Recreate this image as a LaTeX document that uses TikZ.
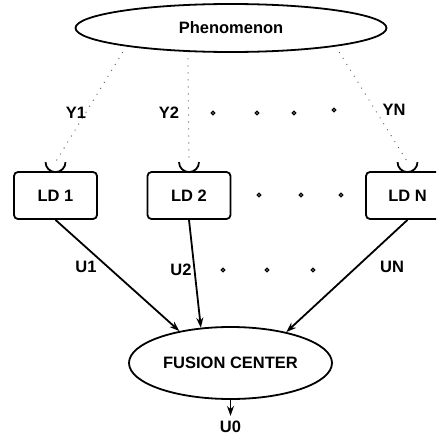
\documentclass[tikz,border=0pt]{standalone}
\usepackage{fontspec}
\setmainfont{Liberation Sans}
\usetikzlibrary{arrows.meta, shapes.geometric}

\begin{document}
\begin{tikzpicture}[x=1pt,y=-1pt,>={Stealth[length=10pt,width=7pt]},
  font=\fontsize{16.5}{19}\selectfont\bfseries, line width=1.8pt,
  oval/.style={draw, ellipse, inner sep=0pt},
  detector/.style={draw, rounded corners=4pt, minimum width=83pt, minimum height=47pt},
  sensing/.style={black!65, line width=1.3pt, line cap=round, dash pattern=on 0pt off 7pt},
  gap/.style={line width=1.3pt}]
\useasboundingbox (0,0) rectangle (436,436);
\clip (0,0) rectangle (436,436);

% define the nodes
  \node[oval, minimum width=311pt, minimum height=48pt] (ph) at (231,28) {Phenomenon};
  \node[detector] (ld1) at (55.5,195.5) {LD 1};
  \node[detector] (ld2) at (189,195.5)  {LD 2};
  \node[detector] (ldN) at (407.5,195.5) {LD N};
  \node[oval, minimum width=203pt, minimum height=72pt] (fc) at (230.5,363) {FUSION CENTER};
  \node (u0) at (230.5,427) {U0};

% observation inputs
  \foreach \d in {1,2,N} {
    \coordinate (r\d) at ([yshift=9pt]ld\d.north);
    \draw ([xshift=10pt]r\d) arc[start angle=0, end angle=180, radius=10];
  }
  \path[sensing] (ph.190) edge (r1)
                 (ph.209) edge (r2)
                 (ph.350) edge (rN);
  \node (y1) at (76,113)  {Y1};
  \node (y2) at (169,113) {Y2};
  \node (yN) at (394,110) {YN};

% define the links
  \path[->] (ld1.south) edge (fc.148)
            (ld2.south) edge (fc.130)
            (ldN.south) edge (fc.29)
            (fc) edge[shorten >=1pt] (u0);
  \node (u1) at (86,267)  {U1};
  \node (u2) at (181,270) {U2};
  \node (uN) at (392,267) {UN};

% the dots between
  \foreach \x/\y in {213/113, 257/113, 294/113, 334/110, 259/195, 301/195, 341/195, 223/270, 267/270, 313/270}
    \draw[gap] (\x,\y) circle[radius=1.8];

\end{tikzpicture}
\end{document}
